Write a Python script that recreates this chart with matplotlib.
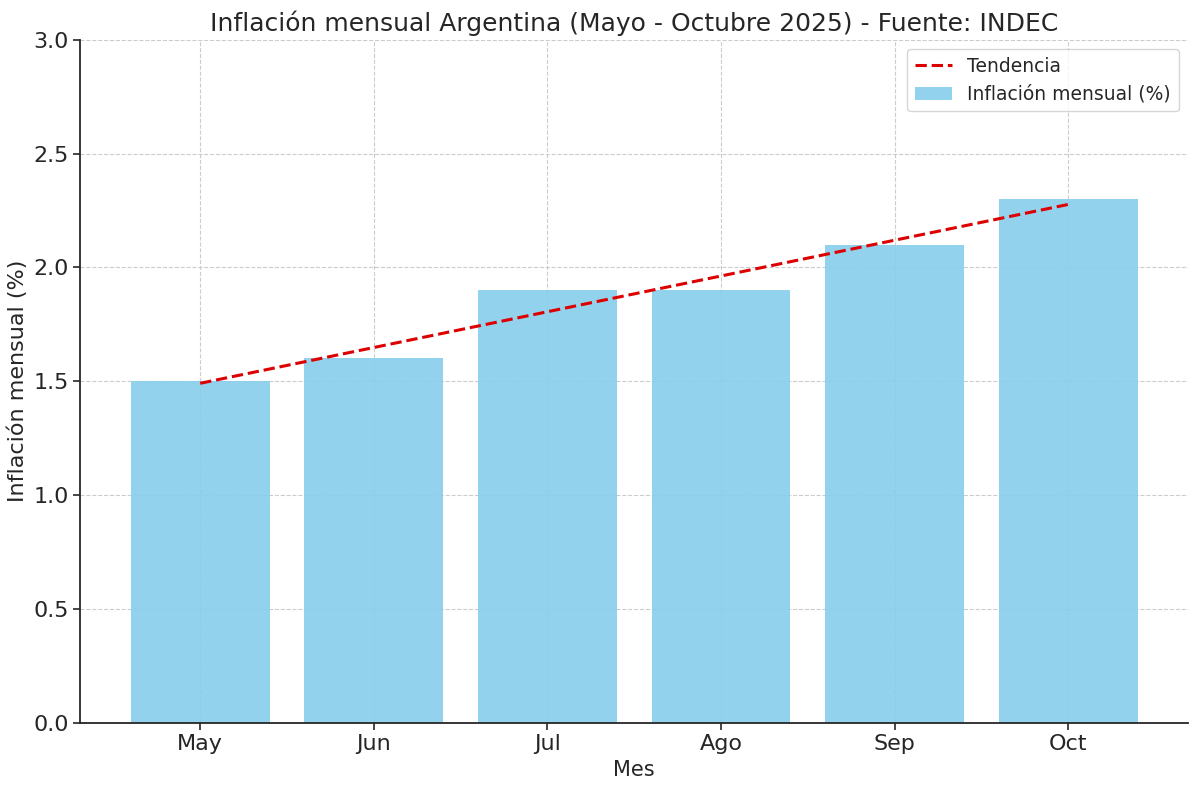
import numpy as np
import matplotlib
matplotlib.use("Agg")
import matplotlib.pyplot as plt

meses = ["May", "Jun", "Jul", "Ago", "Sep", "Oct"]
inflacion = [1.5, 1.6, 1.9, 1.9, 2.1, 2.3]

plt.rcParams['font.family'] = ['DejaVu Sans']
plt.rcParams['text.color'] = '#262626'
plt.rcParams['axes.labelcolor'] = '#262626'
plt.rcParams['xtick.color'] = '#262626'
plt.rcParams['ytick.color'] = '#262626'

fig, ax = plt.subplots(figsize=(12, 7.94), dpi=100)

x = np.arange(len(meses))
ax.bar(x, inflacion, width=0.8, color='skyblue', alpha=0.9,
       label='Inflación mensual (%)', zorder=2)

# linea de tendencia (ajuste lineal)
coef = np.polyfit(x, inflacion, 1)
ax.plot(x, np.polyval(coef, x), color='#dd0000', linestyle='--', linewidth=2.2,
        label='Tendencia', zorder=3)

ax.set_xticks(x)
ax.set_xticklabels(meses)
ax.set_ylim(0, 3.0)
ax.set_yticks(np.arange(0, 3.01, 0.5))
ax.tick_params(labelsize=16, length=5, width=1.2)
ax.set_xlabel('Mes', fontsize=15)
ax.set_ylabel('Inflación mensual (%)', fontsize=16)
ax.set_title('Inflación mensual Argentina (Mayo - Octubre 2025) - Fuente: INDEC', fontsize=18)
ax.grid(True, linestyle='--', color='#cccccc', linewidth=0.8, zorder=0)
ax.set_axisbelow(True)
for s in ['top', 'right']:
    ax.spines[s].set_visible(False)
for s in ['left', 'bottom']:
    ax.spines[s].set_linewidth(1.3)
    ax.spines[s].set_color('#262626')

ax.legend(loc='upper right', fontsize=13.5)

fig.subplots_adjust(left=0.067, right=0.99, top=0.95, bottom=0.09)
plt.savefig('out.png', dpi=100)
